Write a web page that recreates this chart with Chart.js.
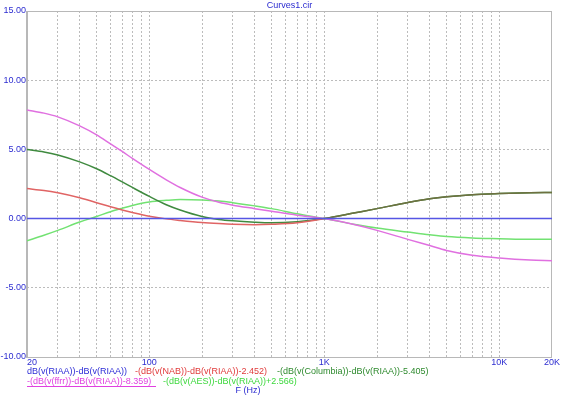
<!DOCTYPE html>
<html lang="en">
<head>
<meta charset="UTF-8">
<title>Curves1.cir</title>
<script src="https://cdn.jsdelivr.net/npm/chart.js"></script>
<style>
  html, body { margin: 0; padding: 0; background: #fff; }
  #wrap { width: 588px; height: 397px; }
</style>
</head>
<body>
<div id="wrap"><canvas id="curves"></canvas></div>
<script>
// frequency points (Hz)
const freqs    = [20, 25, 30, 40, 50, 60, 70, 80, 100, 125, 150, 200, 250, 300, 400, 500, 700, 1000, 1500, 2000, 3000, 4000, 5000, 7000, 10000, 15000, 20000];
const riaa     = [0, 0, 0, 0, 0, 0, 0, 0, 0, 0, 0, 0, 0, 0, 0, 0, 0, 0, 0, 0, 0, 0, 0, 0, 0, 0, 0];
const nab      = [2.17, 2.03, 1.86, 1.5, 1.15, 0.85, 0.62, 0.44, 0.17, -0.02, -0.13, -0.28, -0.36, -0.41, -0.44, -0.41, -0.3, 0, 0.42, 0.72, 1.16, 1.43, 1.58, 1.73, 1.81, 1.87, 1.89];
const columbia = [5.0, 4.82, 4.6, 4.1, 3.6, 3.1, 2.65, 2.25, 1.6, 1.0, 0.62, 0.15, -0.06, -0.16, -0.26, -0.3, -0.22, 0, 0.42, 0.72, 1.16, 1.43, 1.58, 1.73, 1.81, 1.87, 1.89];
const ffrr     = [7.85, 7.62, 7.35, 6.7, 6.05, 5.4, 4.85, 4.35, 3.55, 2.8, 2.25, 1.55, 1.18, 0.97, 0.72, 0.53, 0.25, 0, -0.45, -0.85, -1.5, -1.95, -2.3, -2.65, -2.85, -3.0, -3.05];
const aes      = [-1.6, -1.2, -0.85, -0.25, 0.15, 0.5, 0.75, 0.95, 1.2, 1.32, 1.38, 1.35, 1.27, 1.15, 0.92, 0.72, 0.35, 0, -0.42, -0.68, -0.97, -1.17, -1.3, -1.4, -1.45, -1.5, -1.5];

const gridFreqs = [30, 40, 50, 60, 70, 80, 90, 100, 200, 300, 400, 500, 600, 700, 800, 900, 1000, 2000, 3000, 4000, 5000, 6000, 7000, 8000, 9000, 10000];
const xLabels = [[20, '20'], [100, '100'], [1000, '1K'], [10000, '10K'], [20000, '20K']];

const legendItems = [
  { text: 'dB(v(RIAA))-dB(v(RIAA))',                 color: '#2c2cd6', x: 27,  row: 0, w: 100 },
  { text: '-(dB(v(NAB))-dB(v(RIAA))-2.452)',         color: '#e03a3a', x: 135, row: 0, w: 134 },
  { text: '-(dB(v(Columbia))-dB(v(RIAA))-5.405)',    color: '#2e8a2e', x: 277, row: 0, w: 153 },
  { text: '-(dB(v(ffrr))-dB(v(RIAA))-8.359)',        color: '#e040e0', x: 27,  row: 1, w: 129, underline: true },
  { text: '-(dB(v(AES))-dB(v(RIAA))+2.566)',         color: '#3ed83e', x: 163, row: 1, w: 134 }
];

const pts = arr => freqs.map((f, i) => ({ x: f, y: arr[i] }));
const FONT = '9px "Liberation Sans", Arial, sans-serif';
const BLUE_TEXT = '#2c2cd0';

const framePlugin = {
  id: 'frameAndText',
  beforeDatasetsDraw(chart) {
    const { ctx, chartArea: a } = chart;
    ctx.save();
    ctx.strokeStyle = '#b8b8b8';
    ctx.lineWidth = 1;
    ctx.strokeRect(a.left + 0.5, a.top + 0.5, a.right - a.left - 1, a.bottom - a.top);
    ctx.lineWidth = 2;
    ctx.beginPath();
    ctx.moveTo(a.left, a.top);
    ctx.lineTo(a.left, a.bottom + 1);
    ctx.stroke();
    ctx.restore();
  },
  afterDraw(chart) {
    const { ctx, chartArea: a } = chart;
    const xs = chart.scales.x;
    ctx.save();
    ctx.font = FONT;
    ctx.textBaseline = 'middle';

    // title
    ctx.fillStyle = BLUE_TEXT;
    ctx.textAlign = 'center';
    ctx.fillText('Curves1.cir', (a.left + a.right) / 2, 6);

    // x tick labels
    xLabels.forEach(([v, t], i) => {
      const px = xs.getPixelForValue(v);
      ctx.textAlign = i === 0 ? 'left' : 'center';
      ctx.fillText(t, px, a.bottom + 5.5);
    });

    // legend
    ctx.textAlign = 'left';
    legendItems.forEach(it => {
      const y = it.row === 0 ? 371.5 : 381.5;
      ctx.fillStyle = it.color;
      ctx.fillText(it.text, it.x, y, it.w);
      if (it.underline) {
        ctx.fillRect(it.x, y + 4.5, it.w, 1);
      }
    });

    // axis title
    ctx.fillStyle = BLUE_TEXT;
    ctx.textAlign = 'center';
    ctx.fillText('F (Hz)', 248, 391);
    ctx.restore();
  }
};

const line = (data, color) => ({
  data: pts(data),
  borderColor: color,
  borderWidth: 1.5,
  pointRadius: 0,
  fill: false,
  cubicInterpolationMode: 'monotone'
});

const nabSet = line(nab, '#e06464');
nabSet.segment = {
  borderColor: c => (nab[c.p0DataIndex] === columbia[c.p0DataIndex] &&
                     nab[c.p1DataIndex] === columbia[c.p1DataIndex]) ? '#6e7040' : undefined
};

new Chart(document.getElementById('curves'), {
  type: 'line',
  data: {
    datasets: [
      line(riaa, '#5656e4'),
      nabSet,
      line(columbia, '#3f8a3f'),
      line(ffrr, '#e070e0'),
      line(aes, '#72e272')
    ]
  },
  options: {
    responsive: true,
    maintainAspectRatio: false,
    animation: false,
    layout: { padding: { top: 11, right: 36, left: 0, bottom: 0 } },
    plugins: { legend: { display: false }, tooltip: { enabled: false } },
    scales: {
      x: {
        type: 'logarithmic',
        min: 20,
        max: 20000,
        afterBuildTicks: s => { s.ticks = gridFreqs.map(v => ({ value: v })); },
        afterFit: s => { s.height = 40; },
        ticks: { display: false },
        grid: { color: '#bcbcbc', lineWidth: 1, drawTicks: false },
        border: { display: false, dash: [2, 2] }
      },
      y: {
        min: -10,
        max: 15,
        afterFit: s => { s.width = 27; },
        ticks: {
          stepSize: 5,
          padding: 1,
          color: BLUE_TEXT,
          font: { family: '"Liberation Sans", Arial, sans-serif', size: 9 },
          callback: v => v.toFixed(2)
        },
        grid: { color: '#bcbcbc', lineWidth: 1, drawTicks: false },
        border: { display: false, dash: [2, 2] }
      }
    }
  },
  plugins: [framePlugin]
});
</script>
</body>
</html>
